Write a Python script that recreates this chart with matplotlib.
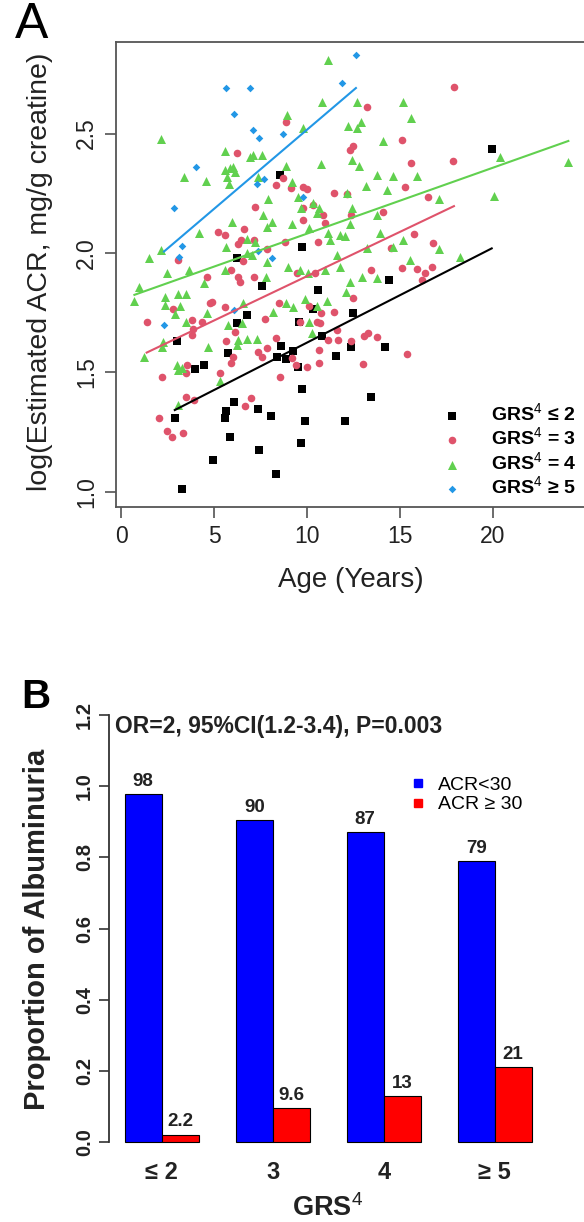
import numpy as np
import matplotlib.pyplot as plt
from matplotlib.lines import Line2D

plt.rcParams['font.family'] = ['Liberation Sans', 'DejaVu Sans']
plt.rcParams['mathtext.fontset'] = 'custom'
plt.rcParams['mathtext.rm'] = 'Liberation Sans'
plt.rcParams['mathtext.bf'] = 'Liberation Sans:bold'

# ---------------- panel A: age vs log(ACR), by GRS group ----------------
age_g2 = [6.79, 6.22, 3.03, 5.74, 4.46, 4.0, 2.89, 6.09, 5.66, 5.59, 7.35, 8.05, 5.88, 7.4,
          4.95, 3.28, 7.58, 6.22, 10.57, 12.46, 10.3, 9.57, 10.79, 8.62, 9.23, 8.37, 8.85,
          9.53, 12.38, 11.56, 14.19, 9.75, 13.44, 9.89, 12.04, 9.66, 8.33, 8.55, 9.75, 14.41,
          19.93]
acr_g2 = [1.74, 1.706, 1.63, 1.58, 1.53, 1.516, 1.31, 1.375, 1.34, 1.31, 1.347, 1.318, 1.23,
          1.176, 1.134, 1.011, 1.863, 1.978, 1.845, 1.75, 1.764, 1.713, 1.653, 1.611, 1.59,
          1.566, 1.555, 1.524, 1.605, 1.569, 1.608, 1.432, 1.397, 1.297, 1.297, 1.204, 1.074,
          2.326, 2.026, 1.887, 2.437]

age_g3 = [6.22, 7.22, 5.23, 5.59, 6.63, 6.31, 6.45, 7.17, 7.83, 6.54, 3.08, 4.61, 6.31, 6.4,
          7.15, 5.91,
          8.85, 13.24, 15.12, 12.31, 12.46, 15.57, 15.27, 8.33, 8.73, 9.12, 9.77, 10.02, 11.45,
          12.17, 9.77, 10.31, 9.77, 10.88, 10.97, 14.1, 12.37, 8.82, 10.57, 15.75, 14.52, 13.44,
          15.09, 15.9, 16.34, 16.16, 10.43, 9.45,
          17.9, 17.83, 16.79, 16.7, 16.5,
          1.38, 2.81, 4.78, 4.87, 3.83, 4.34, 5.59, 3.89, 3.8, 5.65, 6.13, 7.74, 7.35, 7.56, 7.87,
          6.0, 5.9, 3.53, 3.49, 2.22, 5.32, 3.49, 3.94, 6.99, 6.67, 2.04, 2.46, 2.76, 3.32,
          12.46, 8.51, 10.12, 10.74, 11.45, 9.62, 10.52, 10.7, 11.6, 8.33, 11.15, 11.69, 12.38,
          13.08, 13.26, 13.78, 10.66, 15.39, 9.18, 9.41, 10.02, 10.66, 13.03, 8.55]
acr_g3 = [2.417, 2.194, 2.089, 2.075, 2.10, 2.038, 2.054, 2.054, 2.015, 1.968, 1.971, 1.898,
          1.90, 1.88, 1.90, 1.929,
          2.549, 2.612, 2.473, 2.431, 2.448, 2.375, 2.277, 2.285, 2.315, 2.273, 2.277, 2.268,
          2.25, 2.248, 2.187, 2.20, 2.138, 2.159, 2.127, 2.173, 2.159, 2.045, 2.045, 2.078,
          2.02, 1.929, 1.936, 1.932, 1.915, 1.887, 1.915, 1.915,
          2.693, 2.386, 2.041, 1.94, 2.236,
          1.71, 1.764, 1.79, 1.796, 1.72, 1.713, 1.773, 1.68, 1.657, 1.632, 1.67, 1.723, 1.587,
          1.566, 1.601, 1.566, 1.541, 1.531, 1.499, 1.48, 1.497, 1.396, 1.385, 1.392, 1.361,
          1.311, 1.255, 1.232, 1.248,
          1.81, 1.79, 1.778, 1.75, 1.754, 1.713, 1.713, 1.706, 1.678, 1.643, 1.636, 1.636,
          1.633, 1.653, 1.664, 1.647, 1.594, 1.577, 1.559, 1.531, 1.524, 1.538, 1.536, 1.48]

age_g4 = [2.15, 5.59, 6.94, 7.11, 7.56, 5.59, 5.86, 6.04, 6.13, 5.72, 5.82, 3.39, 4.55, 7.35,
          7.92, 5.95, 7.65, 4.19, 5.65, 6.76, 7.2, 2.13, 1.51, 7.83, 2.49, 3.67, 5.59, 4.48,
          0.97, 6.76, 7.03, 7.83, 7.78,
          11.15, 10.79, 12.71, 15.14, 15.57, 8.91, 9.8, 12.22, 12.71, 12.89, 14.1, 8.85, 10.74,
          12.4, 12.78, 13.78, 14.64, 15.9, 13.16, 14.32, 12.17, 9.18, 9.53, 9.66, 10.31, 10.66,
          10.52, 12.4, 13.78, 12.31, 9.18, 10.12, 11.15, 11.77, 12.04, 11.24, 13.92, 15.18,
          14.64, 13.21, 11.6, 11.77, 9.0, 9.62, 10.07, 12.94, 13.75, 15.54, 12.31, 10.97, 8.1,
          20.38, 24.05, 17.11, 20.05, 17.11, 18.23,
          0.72, 2.37, 2.37, 3.08, 3.49, 3.17, 2.9, 3.49, 4.64, 6.58, 5.77, 6.49, 2.28, 2.19, 1.25,
          4.7, 6.31, 6.76, 7.29, 6.22, 2.99, 3.08, 3.26, 5.32, 3.08,
          8.19, 8.85, 9.26, 9.89, 10.52, 11.09, 12.1, 10.1, 10.25]
acr_g4 = [2.476, 2.428, 2.403, 2.41, 2.41, 2.347, 2.355, 2.36, 2.34, 2.319, 2.289, 2.32, 2.30,
          2.32, 2.225, 2.131, 2.159, 2.082, 2.026, 2.059, 2.047, 2.013, 1.978, 2.11, 1.918,
          1.929, 1.929, 1.873, 1.856, 1.999, 1.992, 1.964, 1.90,
          2.807, 2.633, 2.633, 2.633, 2.564, 2.577, 2.522, 2.533, 2.522, 2.549, 2.47, 2.365,
          2.371, 2.389, 2.365, 2.326, 2.322, 2.322, 2.28, 2.264, 2.25, 2.298, 2.236, 2.187,
          2.208, 2.187, 2.166, 2.187, 2.159, 2.12, 2.12, 2.103, 2.082, 2.075, 2.071, 2.054,
          2.082, 2.054, 2.026, 2.02, 1.99, 1.943, 1.943, 1.929, 1.915, 1.90, 1.894, 1.971, 1.88,
          1.929, 2.131,
          2.403, 2.382, 2.226, 2.238, 2.017, 1.985,
          1.80, 1.817, 1.782, 1.828, 1.828, 1.778, 1.745, 1.713, 1.75, 1.79, 1.699, 1.706,
          1.629, 1.608, 1.564, 1.608, 1.636, 1.639, 1.639, 1.615, 1.531, 1.51, 1.517, 1.466,
          1.364,
          1.754, 1.79, 1.776, 1.806, 1.778, 1.80, 1.836, 1.713, 1.664]

age_g5 = [5.65, 6.95, 6.06, 7.11, 7.42, 4.01, 2.87, 7.69, 7.31, 3.28, 3.12, 7.37, 12.63, 11.9,
          8.73, 9.8, 8.1, 2.31, 6.08]
acr_g5 = [2.69, 2.69, 2.58, 2.515, 2.48, 2.36, 2.19, 2.31, 2.29, 2.03, 1.985, 2.01, 2.83, 2.71,
          2.50, 2.235, 1.98, 1.70, 1.76]

# regression lines: (intercept, slope)
fit_g2 = (1.228, 0.0397)
fit_g3 = (1.532, 0.0371)
fit_g4 = (1.805, 0.0276)
fit_g5 = (1.853, 0.0663)

# ---------------- panel B: proportion of albuminuria ----------------
grs_groups = ['≤ 2', '3', '4', '≥ 5']
prop_lt30 = [0.978, 0.904, 0.871, 0.789]
prop_ge30 = [0.022, 0.096, 0.129, 0.211]
lab_lt30 = ['98', '90', '87', '79']
lab_ge30 = ['2.2', '9.6', '13', '21']

W, H = 584, 1222
fig = plt.figure(figsize=(W / 100, H / 100), dpi=100)

# ---- panel A ----
axA = fig.add_axes([116 / W, 1 - 507 / H, (594 - 116) / W, (507 - 42) / H])
series = [
    (age_g2, acr_g2, fit_g2, 's', 34, 'black', r'GRS$^4$ ≤ 2'),
    (age_g3, acr_g3, fit_g3, 'o', 30, '#DF536B', r'GRS$^4$ = 3'),
    (age_g4, acr_g4, fit_g4, '^', 42, '#61D04F', r'GRS$^4$ = 4'),
    (age_g5, acr_g5, fit_g5, 'D', 15, '#2297E6', r'GRS$^4$ ≥ 5'),
]
handles = []
for age, acr, fit, mk, sz, col, lab in series:
    h = axA.scatter(age, acr, marker=mk, s=sz, color=col, linewidths=0, label=lab, zorder=2)
    handles.append(h)
for age, acr, fit, mk, sz, col, lab in series:
    xx = np.array([min(age), max(age)])
    axA.plot(xx, fit[0] + fit[1] * xx, color=col, lw=1.5, zorder=3)

axA.set_xlim(-0.27, 25.43)
axA.set_ylim(0.937, 2.883)
axA.set_xticks([0, 5, 10, 15, 20])
axA.set_yticks([1.0, 1.5, 2.0, 2.5])
axA.set_yticklabels(['1.0', '1.5', '2.0', '2.5'], rotation=90, va='center')
axA.tick_params(axis='both', direction='out', length=8, width=1.1, color='#444444',
                labelsize=16.5, labelcolor='#222222')
axA.tick_params(axis='x', pad=5)
axA.tick_params(axis='y', pad=5)
for sp in axA.spines.values():
    sp.set_color('#555555')
    sp.set_linewidth(1.3)
axA.set_xlabel('Age (Years)', fontsize=20, color='#222222')
axA.xaxis.set_label_coords(0.4916, -0.157)
axA.xaxis.label.set_va('center')
axA.set_ylabel('log(Estimated ACR, mg/g creatine)', fontsize=20.5, color='#222222')
axA.yaxis.set_label_coords(-0.159, 0.505)
axA.yaxis.label.set_va('center')
axA.legend(handles=handles, loc='upper left', bbox_to_anchor=(0.6826, 0.224),
           frameon=False, borderpad=0, borderaxespad=0, handlelength=1.0,
           handletextpad=1.5, labelspacing=0.08, scatterpoints=1,
           prop={'weight': 'bold', 'size': 14})

fig.text(32 / W, 1 - 25 / H, 'A', fontsize=36, ha='center', va='center')

# ---- panel B ----
axB = fig.add_axes([108.5 / W, 1 - 1159.5 / H, (548 - 108.5) / W, (1159.5 - 697.8) / H])
centers = np.arange(len(grs_groups)) * 3 + 2
x_lt = centers - 0.5
x_ge = centers + 0.5
axB.bar(x_lt, prop_lt30, width=1, color='#0000FF', edgecolor='black', linewidth=0.8)
axB.bar(x_ge, prop_ge30, width=1, color='#FF0000', edgecolor='black', linewidth=0.8)
for x, v, t in zip(x_lt, prop_lt30, lab_lt30):
    axB.annotate(t, (x, v), xytext=(0, 3), textcoords='offset points', ha='center',
                 va='bottom', fontsize=13.5, fontweight='bold', color='#222222')
for x, v, t in zip(x_ge, prop_ge30, lab_ge30):
    axB.annotate(t, (x, v), xytext=(0, 3), textcoords='offset points', ha='center',
                 va='bottom', fontsize=13.5, fontweight='bold', color='#222222')

axB.set_xlim(0.56, 12.44)
axB.set_ylim(-0.048, 1.248)
for s in ['top', 'right', 'bottom']:
    axB.spines[s].set_visible(False)
axB.spines['left'].set_bounds(0, 1.2)
axB.spines['left'].set_linewidth(1.3)
axB.spines['left'].set_color('#333333')
axB.set_yticks([0, 0.2, 0.4, 0.6, 0.8, 1.0, 1.2])
axB.set_yticklabels(['0.0', '0.2', '0.4', '0.6', '0.8', '1.0', '1.2'], rotation=90,
                    va='center', fontweight='bold')
axB.tick_params(axis='y', direction='out', length=7.5, width=1.2, color='#333333',
                labelsize=14.5, labelcolor='#222222', pad=3)
axB.set_xticks(centers)
axB.set_xticklabels(grs_groups, fontweight='bold')
axB.tick_params(axis='x', length=0, pad=1, labelsize=17, labelcolor='#222222')
axB.set_xlabel(r'GRS$^4$', fontsize=19.5, fontweight='bold', color='#222222')
axB.xaxis.set_label_coords(0.4994, -0.105)
axB.xaxis.label.set_va('center')
axB.set_ylabel('Proportion of Albuminuria', fontsize=21, fontweight='bold', color='#222222')
axB.yaxis.set_label_coords(-0.1627, 0.499)
axB.yaxis.label.set_va('center')
axB.text(0.73, 1.15, 'OR=2, 95%CI(1.2-3.4), P=0.003', fontsize=16.5, fontweight='bold',
         ha='left', va='baseline', color='#222222')

leg_handles = [Line2D([], [], ls='', marker='s', markersize=5.5, color='#0000FF'),
               Line2D([], [], ls='', marker='s', markersize=5.5, color='#FF0000')]
axB.legend(leg_handles, ['ACR<30', 'ACR ≥ 30'], loc='upper left',
           bbox_to_anchor=(0.693, 0.83), frameon=False, borderpad=0, borderaxespad=0,
           handlelength=0.5, handletextpad=0.76, labelspacing=0.1, prop={'size': 14})

fig.text(36 / W, 1 - 697 / H, 'B', fontsize=29, fontweight='bold', ha='center', va='center')

fig.savefig('out.png', dpi=100)
